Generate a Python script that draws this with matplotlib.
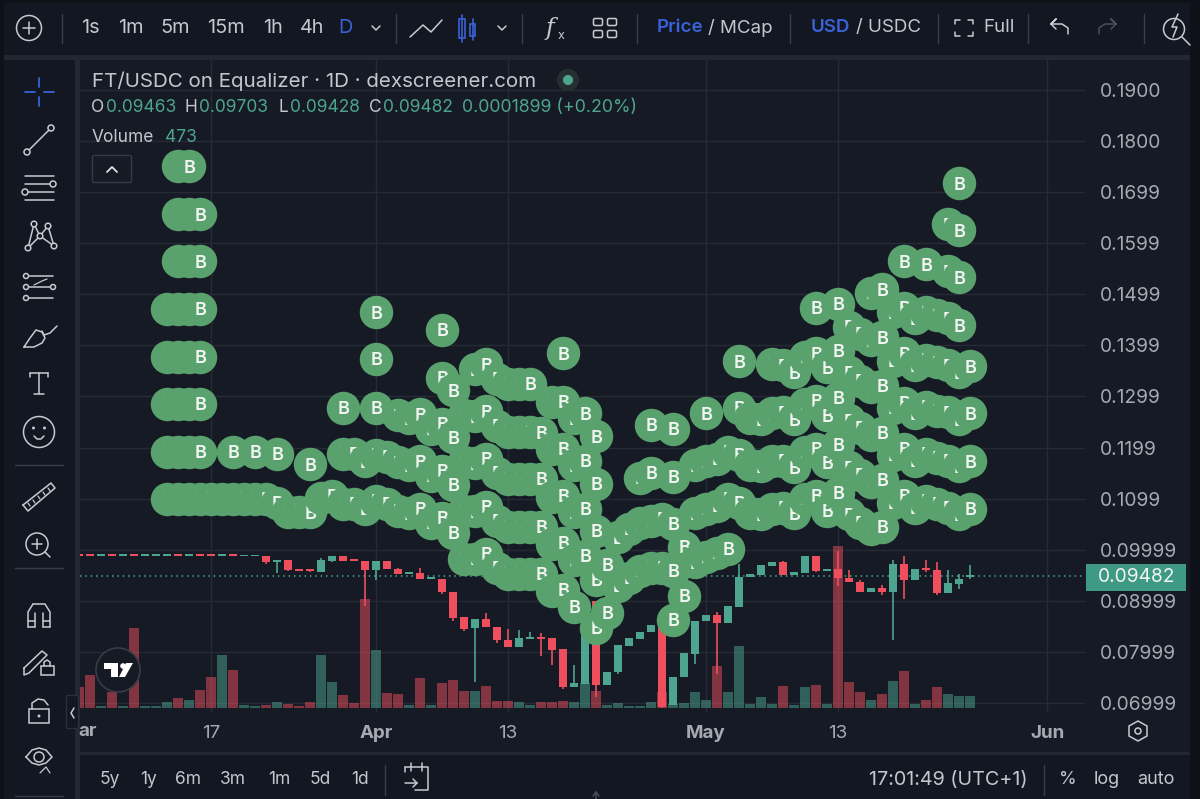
import matplotlib
matplotlib.use('Agg')
from matplotlib import pyplot as plt
from matplotlib.patches import Circle, Rectangle, FancyBboxPatch

plt.rcParams['font.family'] = ['Inter', 'DejaVu Sans']

# daily candles, day 0 = 1 March
days = list(range(4, 86))
opens = [.0989, .0989, .0988, .0989, .0988, .0989, .0988, .0988, .0988, .0989, .0988, .0989, .0989, .0988, .0989, .0987, .0987,
         .0987, .0975, .0980, .0963, .0963, .0957, .0978, .0988, .0980, .0978, .0961, .0978, .0963, .0953, .0955, .0943,
         .0943, .0918, .0869, .0847, .0865, .0849, .0824, .0810, .0826, .0830, .0828, .0806, .0731, .0737, .0900, .0735,
         .0761, .0812, .0826, .0839, .0853, .0696, .0751, .0796, .0861, .0873, .0857, .0888, .0947, .0951, .0969, .0975,
         .0951, .0955, .0988, .0959, .0963, .0945, .0937, .0918, .0926, .0918, .0973, .0941, .0963, .0961, .0916, .0933,
         .09463]
closes = [.0988, .0988, .0989, .0988, .0989, .0988, .0989, .0989, .0989, .0988, .0989, .0988, .0988, .0989, .0988, .0988, .0988,
          .0975, .0980, .0961, .0959, .0959, .0980, .0988, .0978, .0978, .0961, .0978, .0963, .0953, .0957, .0943, .0945,
          .0918, .0867, .0845, .0865, .0849, .0824, .0810, .0828, .0828, .0826, .0804, .0731, .0739, .0900, .0735, .0761,
          .0814, .0828, .0839, .0853, .0692, .0751, .0798, .0861, .0873, .0857, .0890, .0947, .0953, .0971, .0975, .0951,
          .0957, .0988, .0959, .0963, .0945, .0937, .0918, .0926, .0918, .0973, .0941, .0963, .0961, .0916, .0935, .0943,
          .09482]
highs = [.0989, .0989, .0988, .0989, .0988, .0989, .0988, .0988, .0988, .0989, .0988, .0989, .0989, .0988, .0989, .0987, .0987,
         .0987, .0980, .0980, .0963, .0963, .0984, .0988, .0988, .0980, .0978, .0978, .0978, .0965, .0957, .0965, .0945,
         .0943, .0918, .0869, .0865, .0877, .0849, .0845, .0843, .0839, .0837, .0828, .0806, .0775, .0900, .0900, .0761,
         .0814, .0828, .0839, .0853, .0853, .0751, .0798, .0861, .0873, .0879, .0890, .0973, .0953, .0971, .0975, .0977,
         .0957, .0988, .0988, .0963, .0998, .0961, .0941, .0926, .0931, .0980, .0987, .0963, .0980, .0975, .0961, .0953,
         .09703]
lows = [.0988, .0988, .0988, .0988, .0988, .0988, .0988, .0988, .0988, .0988, .0988, .0988, .0988, .0988, .0988, .0988, .0987,
        .0973, .0955, .0959, .0959, .0957, .0957, .0975, .0978, .0978, .0890, .0941, .0963, .0953, .0953, .0943, .0943,
        .0914, .0861, .0841, .0741, .0849, .0818, .0810, .0810, .0826, .0792, .0775, .0728, .0731, .0737, .0712, .0735,
        .0757, .0812, .0826, .0839, .0690, .0696, .0751, .0777, .0861, .0757, .0857, .0888, .0947, .0951, .0969, .0951,
        .0951, .0955, .0957, .0959, .0929, .0937, .0918, .0918, .0912, .0824, .0904, .0941, .0957, .0912, .0916, .0924,
        .09428]
volumes = [850, 1320, 70, 650, 80, 3230, 50, 50, 240, 375, 295, 730, 1250, 2140, 1535, 110, 50,
           110, 215, 150, 70, 215, 2140, 1040, 525, 190, 4390, 2340, 605, 555, 95, 1210, 95,
           1010, 1130, 660, 660, 875, 270, 270, 215, 110, 215, 215, 270, 215, 1010, 690, 110,
           190, 80, 70, 240, 650, 150, 190, 620, 295, 1700, 650, 2500, 150, 415, 150, 875,
           110, 820, 930, 150, 6530, 1020, 620, 295, 555, 1060, 1480, 150, 295, 820, 555, 473,
           473]

# "B" markers stacked over each day
marker_days = list(range(12, 86))
marker_prices = [
    [.1100, .1192, .1286, .1378, .1472],
    [.1100, .1192, .1286, .1378, .1472, .1565, .1657, .1751],
    [.1100, .1192, .1286, .1378, .1472, .1565, .1657, .1751],
    [.1100, .1192, .1286, .1378, .1472, .1565, .1657],
    [.1100], [.1100], [.1100, .1192], [.1100], [.1100, .1192], [.1100], [.1092, .1188],
    [.1074], [.1074], [.1073, .1167], [.1102], [.1106],
    [.1090, .1188, .1278], [.1090, .1188], [.1080, .1173],
    [.1096, .1186, .1278, .1374, .1465],
    [.1090, .1182], [.1076, .1171, .1263], [.1071, .1165, .1257], [.1080, .1173, .1265],
    [.1053, .1145, .1237],
    [.1063, .1155, .1247, .1337, .1431],
    [.1033, .1127, .1220, .1312],
    [.0982, .1076, .1171, .1263],
    [.0982, .1075, .1169, .1261, .1353],
    [.0992, .1084, .1178, .1271, .1363],
    [.0965, .1057, .1151, .1243, .1335],
    [.0953, .1045, .1139, .1231, .1325],
    [.0953, .1045, .1139, .1231, .1325],
    [.0953, .1045, .1139, .1231, .1325],
    [.0953, .1045, .1139, .1229],
    [.0920, .1012, .1104, .1198, .1290],
    [.0922, .1014, .1106, .1198, .1290, .1385],
    [.0888, .0980, .1073, .1165, .1257],
    [.0988, .1080, .1174, .1267],
    [.0847, .0941, .1037, .1129, .1222],
    [.0877, .0971],
    [.0929, .1024],
    [.0945, .1041],
    [.0959, .1053, .1141],
    [.0965, .1057, .1151, .1245],
    [.0965, .1061],
    [.0863, .0959, .1051, .1143, .1237],
    [.0910, .1006],
    [.0975, .1071, .1165],
    [.0986, .1080, .1173, .1267],
    [.0994, .1086, .1178],
    [.1002, .1100, .1192],
    [.1092, .1186, .1278, .1369],
    [.1071, .1165, .1257],
    [.1069, .1163, .1255],
    [.1080, .1173, .1267, .1363],
    [.1082, .1174, .1269, .1361],
    [.1071, .1161, .1255, .1347],
    [.1100, .1192, .1286, .1378],
    [.1106, .1198, .1292, .1385, .1474],
    [.1076, .1171, .1263, .1357],
    [.1112, .1206, .1298, .1390, .1482],
    [.1069, .1161, .1253, .1347, .1437],
    [.1053, .1147, .1239, .1331, .1423],
    [.1041, .1133, .1225, .1318, .1410, .1503],
    [.1045, .1137, .1229, .1321, .1416, .1510],
    [.1092, .1186, .1278, .1370, .1465],
    [.1106, .1198, .1288, .1385, .1474, .1565],
    [.1082, .1174, .1267, .1361, .1453],
    [.1096, .1188, .1280, .1372, .1465, .1559],
    [.1090, .1180, .1272, .1367, .1459],
    [.1082, .1174, .1269, .1361, .1453, .1545, .1637],
    [.1069, .1163, .1255, .1347, .1439, .1533, .1625, .1717],
    [.1080, .1173, .1267, .1359],
]

price_ticks = [.19, .18, .17, .16, .15, .14, .13, .12, .11, .10, .09, .08, .07]
price_labels = ['0.1900', '0.1800', '0.1699', '0.1599', '0.1499', '0.1399', '0.1299', '0.1199', '0.1099',
                '0.09999', '0.08999', '0.07999', '0.06999']
date_ticks = [16, 31, 43, 61, 73, 92]
date_labels = ['17', 'Apr', '13', 'May', '13', 'Jun']
last_close = 0.09482

BG = '#161a25'
BAR = '#131722'
GRID = '#262a35'
UP = '#4da58f'
DOWN = '#ef4f5c'
MARK = '#59a26e'
TXT = '#c4c7ce'
DIM = '#a6a9b1'
BLUE = '#3a62d8'
ICON = '#c8cad0'

fig = plt.figure(figsize=(12, 7.99), dpi=100, facecolor='#0f1119')


def px_axes(left, top, right, bottom):
    return fig.add_axes([left / 1200, 1 - bottom / 799, (right - left) / 1200, (bottom - top) / 799])


# pixel overlay for the terminal chrome, under the chart
back = px_axes(0, 0, 1200, 799)
back.set_xlim(0, 1200)
back.set_ylim(799, 0)
back.axis('off')
back.add_patch(Rectangle((4, 3), 1186, 52, fc=BAR, ec='none'))
back.add_patch(Rectangle((4, 55), 1186, 5, fc='#232732', ec='none'))
back.add_patch(Rectangle((4, 60), 71, 739, fc=BAR, ec='none'))
back.add_patch(Rectangle((75, 60), 5, 739, fc='#232732', ec='none'))
back.add_patch(Rectangle((80, 60), 1110, 692, fc=BG, ec='none'))
back.add_patch(Rectangle((80, 752), 1110, 3, fc='#232732', ec='none'))
back.add_patch(Rectangle((80, 755), 1110, 44, fc=BAR, ec='none'))

# price panel
ax = px_axes(80, 60, 1085, 712)
ax.set_facecolor(BG)
ax.set_xlim(4.09, 95.45)
ax.set_ylim(.19 - 622 / 5108, .19 + 30 / 5108)
for s in ax.spines.values():
    s.set_visible(False)
ax.set_yticks(price_ticks)
ax.set_yticklabels(price_labels, fontsize=13.8, color=DIM)
ax.set_xticks(date_ticks)
ax.set_xticklabels(date_labels, fontsize=13.5, color=DIM)
ax.tick_params(axis='both', length=0)
ax.tick_params(axis='y', pad=10.5)
ax.tick_params(axis='x', pad=9.5)
ax.grid(True, color=GRID, lw=1)
ax.set_axisbelow(True)
for lab in ax.get_xticklabels():
    if lab.get_text() in ('Apr', 'May', 'Jun'):
        lab.set_fontweight('bold')

for d, o, h, l, c in zip(days, opens, highs, lows, closes):
    col = UP if c >= o else DOWN
    ax.vlines(d, l, h, color=col, lw=1.2, zorder=3)
    ax.bar(d, max(abs(c - o), .00035), bottom=min(o, c), width=.72, color=col, zorder=3)

ax.axhline(last_close, color=UP, lw=1.1, ls=(0, (1, 2.5)), zorder=2)

# volume on its own scale, over the candles
vax = ax.twinx()
vax.set_ylim(-174, 26167)
vax.axis('off')
vax.bar(days, volumes, width=.86, alpha=.5,
        color=[UP if c >= o else DOWN for o, c in zip(opens, closes)])

# markers, later days paint over earlier ones
mark_ax = ax.twinx()
mark_ax.set_ylim(ax.get_ylim())
mark_ax.axis('off')
z = 10
for d, prices in zip(marker_days, marker_prices):
    for p in prices:
        mark_ax.scatter([d], [p], s=581, color=MARK, linewidths=0, zorder=z)
        # nudged a little right so the next day's circle hides the covered letter
        mark_ax.text(d + .05, p, 'B', color='#f2f5f2', fontsize=13, fontweight='semibold',
                     ha='center', va='center_baseline', zorder=z + .5)
        z += 1

# twinx moved the price ticks to the left
ax.yaxis.tick_right()

# chrome on top
ui = px_axes(0, 0, 1200, 799)
ui.set_xlim(0, 1200)
ui.set_ylim(799, 0)
ui.axis('off')
ui.patch.set_alpha(0)


def line(xs, ys, color=ICON, lw=1.1):
    ui.plot(xs, ys, color=color, lw=lw, solid_capstyle='round', zorder=50)


def ring(x, y, r, color=ICON, lw=1.1, fc='none'):
    ui.add_patch(Circle((x, y), r, fc=fc, ec=color, lw=lw, zorder=51))


def box(x, y, w, h, color=ICON, lw=1.1, fc='none'):
    ui.add_patch(Rectangle((x, y), w, h, fc=fc, ec=color, lw=lw, zorder=51))


def label(x, y, s, color=TXT, size=13.5, ha='center', weight='normal'):
    return ui.text(x, y, s, color=color, fontsize=size, ha=ha, va='center', fontweight=weight, zorder=60)


# top toolbar
ring(29, 28, 12.5)
line([29, 29], [22, 34])
line([23, 35], [28, 28])
for x in (62, 396, 522, 637, 790, 938, 1028, 1144):
    line([x, x], [14, 43], color='#3a3e49', lw=1)
for x, s in zip((90, 131, 175, 226, 273, 312), ('1s', '1m', '5m', '15m', '1h', '4h')):
    label(x, 28, s, size=14.3)
label(345, 28, 'D', color=BLUE, size=14.3)
for x in (376, 502):
    line([x - 4, x, x + 4], [26, 30, 26])
line([410, 423, 431, 442], [37, 25, 32, 20])
box(459, 19, 6, 19, color=BLUE, lw=1.2)
line([462, 462], [15, 42], color=BLUE, lw=1.2)
box(470, 24, 5, 12, color=BLUE, lw=1.2)
line([472.5, 472.5], [19, 40], color=BLUE, lw=1.2)
ui.text(550, 28, 'f', color=ICON, fontsize=17, family='DejaVu Serif', style='italic', ha='center', va='center', zorder=60)
ui.text(561, 36, 'x', color=ICON, fontsize=9, ha='center', va='center', zorder=60)
for bx in (595, 609):
    for by in (20, 32):
        ui.add_patch(FancyBboxPatch((bx, by), 6, 4, boxstyle='round,pad=1.5', fc='none', ec=ICON, lw=1.1, zorder=51))
label(657, 28, 'Price', color=BLUE, size=13.5, ha='left', weight='semibold')
label(708, 28, '/ MCap', size=13.5, ha='left')
label(811, 28, 'USD', color=BLUE, size=13.5, ha='left', weight='semibold')
label(856, 28, '/ USDC', size=13.5, ha='left')
for xs, ys in (([955, 955, 960], [24, 20, 20]), ([968, 973, 973], [20, 20, 24]),
               ([955, 955, 960], [32, 36, 36]), ([968, 973, 973], [36, 36, 32])):
    line(xs, ys)
label(983, 28, 'Full', size=13.5, ha='left')
line([1051, 1056, 1051, 1056], [24, 19, 24, 29])
line([1051, 1062, 1068, 1068], [24, 24, 28, 34])
line([1116, 1111, 1116, 1111], [24, 19, 24, 29], color='#4a4e59')
line([1116, 1105, 1099, 1099], [24, 24, 28, 34], color='#4a4e59')
ui.add_patch(Circle((1174, 29), 10.5, fc='none', ec=ICON, lw=1.1, zorder=51))
line([1182, 1190], [37, 45])
line([1178, 1172, 1177, 1173], [14, 27, 27, 37])

# left toolbar
line([39, 39], [78, 87], color=BLUE, lw=1.3)
line([39, 39], [97, 106], color=BLUE, lw=1.3)
line([25, 35], [92, 92], color=BLUE, lw=1.3)
line([44, 54], [92, 92], color=BLUE, lw=1.3)
ring(27, 152, 3)
ring(51, 128, 3)
line([29, 49], [150, 130])
line([25, 54], [176, 176])
line([25, 50], [184, 184])
ring(53, 184, 3)
line([28, 54], [192, 192])
ring(25, 192, 3)
line([25, 54], [200, 200])
for (x0, y0), (x1, y1) in (((28, 248), (34, 224)), ((34, 224), (40, 236)), ((40, 236), (48, 226)),
                           ((48, 226), (54, 246)), ((28, 248), (40, 236)), ((40, 236), (54, 246))):
    line([x0, x1], [y0, y1])
for x, y in ((28, 248), (34, 224), (40, 236), (48, 226), (54, 246)):
    ring(x, y, 2.8, fc=BAR)
line([28, 53], [276, 276])
line([28, 53], [287, 287])
line([28, 53], [298, 298])
ring(26, 276, 2.5, fc=BAR)
ring(26, 287, 2.5, fc=BAR)
ring(53, 287, 2.5, fc=BAR)
ring(26, 298, 2.5, fc=BAR)
line([34, 38, 42, 47], [285, 283, 281, 279], lw=.9)
line([24, 30, 36, 42, 45, 42, 34, 24], [347, 338, 330, 332, 338, 343, 347, 347])
line([42, 44, 50, 57], [331, 335, 333, 326])
line([30, 48], [373, 373])
line([39, 39], [373, 394])
line([30, 30], [373, 377])
line([48, 48], [373, 377])
line([34, 44], [394, 394])
ring(39, 432, 15.5)
ring(33.5, 428, .7, fc=ICON)
ring(44.5, 428, .7, fc=ICON)
line([34, 37, 41, 44], [436, 439, 439, 436])
line([23, 51, 55, 28, 23], [505, 483, 488, 511, 505])
for x, y in ((30, 506), (35, 503), (40, 499), (45, 495), (50, 491)):
    line([x, x - 2], [y, y - 3], lw=.9)
ring(37, 544, 11)
line([37, 37], [539, 549])
line([32, 42], [544, 544])
line([45, 50], [552, 557])
line([28, 28, 33, 33], [627, 612, 604, 604])
line([50, 50, 45, 33], [627, 612, 604, 604])
line([35, 35], [627, 613])
line([43, 43], [627, 613])
line([28, 35], [627, 627])
line([43, 50], [627, 627])
line([28, 35], [621, 621])
line([43, 50], [621, 621])
line([24, 42, 47, 29, 24, 24], [668, 651, 655, 673, 675, 668])
box(41, 666, 13, 9)
line([44, 44, 47, 50, 50], [666, 662, 660, 662, 666])
box(29, 709, 20, 14)
ui.add_patch(Circle((39, 716), 1.5, fc=ICON, ec='none', zorder=51))
line([32, 32, 38, 44, 48], [709, 703, 699, 700, 705])
ui.add_patch(Circle((39, 757), 5, fc='none', ec=ICON, lw=1.1, zorder=51))
line([26, 32, 39, 46, 52, 46, 39, 32, 26], [757, 750, 748, 750, 757, 763, 765, 763, 757])
line([40, 46, 50], [773, 767, 773], lw=.9)
line([15, 63], [465, 465], color='#3a3e49', lw=1)
line([15, 63], [568, 568], color='#3a3e49', lw=1)
line([15, 63], [796, 796], color='#3a3e49', lw=1)
ui.add_patch(FancyBboxPatch((68, 697), 9, 30, boxstyle='round,pad=1.5', fc=BAR, ec='#2a2e39', lw=1, zorder=45))
line([74, 71, 74], [708, 713, 718])

# legend
label(92, 81, 'FT/USDC on Equalizer · 1D · dexscreener.com', size=14.8, ha='left')
ring(568, 80, 11, color='none', fc='#23302f')
ring(568, 80, 5, color='none', fc=UP)
for x, gap, head, val in ((91, 15, 'O', '0.09463'), (185, 14, 'H', '0.09703'), (279, 11, 'L', '0.09428'), (369, 14, 'C', '0.09482')):
    label(x, 108, head, size=12.5, ha='left')
    label(x + gap, 108, val, color=UP, size=12.5, ha='left')
label(462, 108, '0.0001899 (+0.20%)', color=UP, size=12.8, ha='left')
label(92, 137, 'Volume', size=12.5, ha='left')
label(165, 137, '473', color=UP, size=12.5, ha='left')
ui.add_patch(FancyBboxPatch((94, 157), 36, 24, boxstyle='round,pad=1.5', fc=BG, ec='#363a45', lw=1, zorder=45))
line([107, 112, 117], [172, 167, 172], color='#e0e0e0', lw=1.3)

# last price tag
ui.add_patch(Rectangle((1086, 564), 100, 27, fc='#3f9a85', ec='none', zorder=51))
label(1098, 577, '0.09482', color='#f0f4f3', size=13.8, ha='left')

# logo over the volume
ring(118, 670, 22, color='#383c47', lw=1.2, fc=BG)
ui.add_patch(plt.Polygon([(104, 663), (118, 663), (118, 677), (111, 677), (111, 669), (104, 669)], fc='white', ec='none', zorder=52))
ui.add_patch(plt.Polygon([(126, 663), (133, 663), (125, 677), (119, 677)], fc='white', ec='none', zorder=52))
ring(123, 666, 2.8, color='none', fc='white')

# axis strip
label(78, 731, 'ar', color=DIM, size=13.5, ha='left', weight='bold')
ui.add_patch(plt.Polygon([(1138, 721), (1147, 726), (1147, 736), (1138, 741), (1129, 736), (1129, 726)], fc='none', ec=ICON, lw=1.1, zorder=51))
ring(1138, 731, 3)

# bottom strip
for x, s in zip((110, 149, 188, 233, 279, 320, 360), ('5y', '1y', '6m', '3m', '1m', '5d', '1d')):
    label(x, 780, s, size=12.5)
for x in (385, 1044):
    line([x, x], [765, 795], color='#3a3e49', lw=1)
line([405, 405], [772, 767])
line([405, 428, 428, 415], [767, 767, 790, 790])
line([411, 411], [763, 771])
line([422, 422], [763, 771])
line([405, 417], [783, 783])
line([413, 417, 413], [779, 783, 787])
label(869, 780, '17:01:49 (UTC+1)', size=14.2, ha='left')
label(1068, 780, '%', size=13)
label(1107, 780, 'log', size=13)
label(1156, 780, 'auto', size=13)
line([593, 596, 599], [796, 792, 796], color='#4a4e59')
line([596, 596], [792, 799], color='#4a4e59')

fig.savefig('out.png', dpi=100, facecolor=fig.get_facecolor())
